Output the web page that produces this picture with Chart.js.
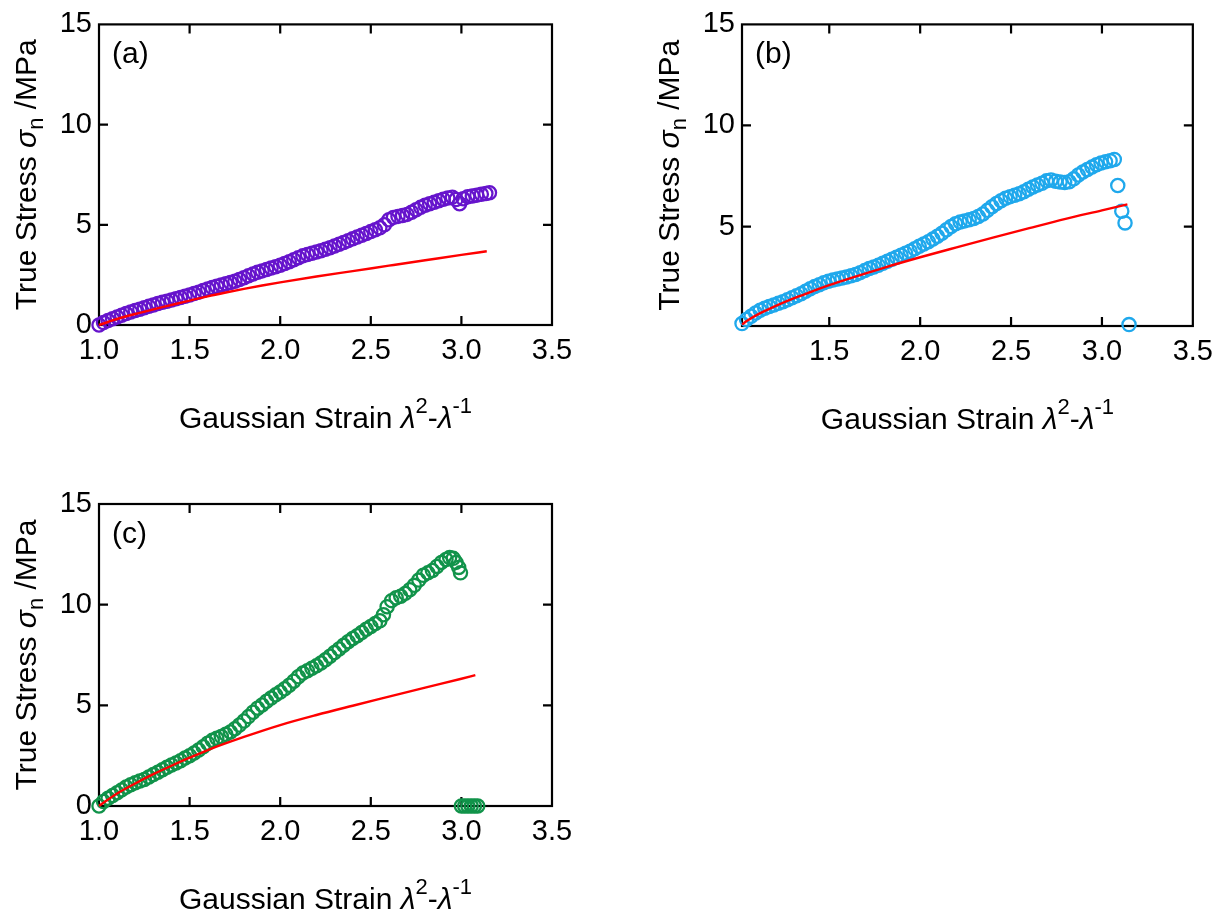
<!DOCTYPE html>
<html>
<head>
<meta charset="utf-8">
<title>True stress vs Gaussian strain</title>
<script src="https://cdn.jsdelivr.net/npm/chart.js@4.4.1/dist/chart.umd.min.js"></script>
<style>
  html, body { margin: 0; padding: 0; background: #fff; }
  #wrap { position: relative; width: 1222px; height: 916px; overflow: hidden; }
  canvas { position: absolute; }
  #chartA { left: 0; top: 0; }
  #chartB { left: 611px; top: 0; }
  #chartC { left: 0; top: 460px; }
</style>
</head>
<body>
<div id="wrap">
  <canvas id="chartA" width="611" height="440"></canvas>
  <canvas id="chartB" width="611" height="440"></canvas>
  <canvas id="chartC" width="611" height="456"></canvas>
</div>
<script>
// Tick values
const xTicks = [1.0, 1.5, 2.0, 2.5, 3.0, 3.5];
const xTicksB = [1.5, 2.0, 2.5, 3.0, 3.5];
const yTicks = [0, 5, 10, 15];
const yTicksB = [5, 10, 15];

// (a) measured stress
const strainA = [1.000, 1.025, 1.050, 1.075, 1.100, 1.125, 1.150, 1.175, 1.200, 1.225, 1.250, 1.275, 1.300, 1.325, 1.350,
  1.375, 1.400, 1.425, 1.450, 1.475, 1.500, 1.525, 1.550, 1.575, 1.600, 1.625, 1.650, 1.675, 1.700, 1.725, 1.750,
  1.775, 1.800, 1.825, 1.850, 1.875, 1.900, 1.925, 1.950, 1.975, 2.000, 2.025, 2.050, 2.075, 2.100, 2.125, 2.150,
  2.175, 2.200, 2.225, 2.250, 2.275, 2.300, 2.325, 2.350, 2.375, 2.400, 2.425, 2.450, 2.475, 2.500, 2.525, 2.550,
  2.575, 2.600, 2.625, 2.650, 2.675, 2.700, 2.725, 2.750, 2.775, 2.800, 2.825, 2.850, 2.875, 2.900, 2.925, 2.950,
  2.970, 2.990, 3.010, 3.035, 3.060, 3.085, 3.110, 3.135, 3.155];
const stressA = [0.00, 0.12, 0.22, 0.31, 0.40, 0.49, 0.57, 0.65, 0.72, 0.79, 0.86, 0.93, 1.00, 1.07, 1.13,
  1.19, 1.25, 1.31, 1.37, 1.43, 1.50, 1.57, 1.64, 1.72, 1.80, 1.87, 1.93, 2.00, 2.06, 2.12, 2.18,
  2.27, 2.36, 2.46, 2.55, 2.63, 2.70, 2.77, 2.84, 2.91, 2.98, 3.07, 3.16, 3.26, 3.36, 3.45, 3.52,
  3.58, 3.64, 3.71, 3.78, 3.86, 3.94, 4.03, 4.12, 4.21, 4.30, 4.39, 4.48, 4.57, 4.66, 4.75, 4.85,
  5.00, 5.25, 5.37, 5.42, 5.46, 5.52, 5.63, 5.75, 5.87, 5.98, 6.05, 6.12, 6.20, 6.28, 6.34, 6.38,
  6.26, 6.05, 6.30, 6.40, 6.44, 6.48, 6.52, 6.56, 6.60];
// (a) model fit
const fitStrainA = [1.0, 1.05, 1.1, 1.2, 1.3, 1.4, 1.5, 1.6, 1.7, 1.8, 1.9, 2.0, 2.2, 2.4, 2.6, 2.8, 3.0, 3.14];
const fitStressA = [0, 0.15, 0.30, 0.55, 0.78, 1.00, 1.22, 1.43, 1.62, 1.80, 1.97, 2.13, 2.42, 2.69, 2.96, 3.23, 3.50, 3.68];

// (b) measured stress
const strainB = [1.020, 1.045, 1.070, 1.095, 1.120, 1.145, 1.170, 1.195, 1.220, 1.245, 1.270, 1.295, 1.320, 1.345,
  1.370, 1.395, 1.420, 1.445, 1.470, 1.495, 1.520, 1.545, 1.570, 1.595, 1.620, 1.645, 1.670, 1.695, 1.720, 1.745,
  1.770, 1.795, 1.820, 1.845, 1.870, 1.895, 1.920, 1.945, 1.970, 1.995, 2.020, 2.045, 2.070, 2.095, 2.120, 2.145,
  2.170, 2.195, 2.220, 2.245, 2.270, 2.295, 2.320, 2.345, 2.370, 2.395, 2.420, 2.445, 2.470, 2.495, 2.520, 2.545,
  2.570, 2.595, 2.620, 2.645, 2.670, 2.695, 2.720, 2.745, 2.770, 2.795, 2.820, 2.845, 2.870, 2.895, 2.920, 2.945,
  2.970, 2.995, 3.020, 3.045, 3.068, 3.087, 3.109, 3.127, 3.149];
const stressB = [0.20, 0.40, 0.56, 0.72, 0.86, 0.96, 1.04, 1.12, 1.20, 1.28, 1.38, 1.48, 1.58, 1.68,
  1.80, 1.92, 2.03, 2.12, 2.22, 2.29, 2.35, 2.40, 2.45, 2.50, 2.56, 2.63, 2.72, 2.82, 2.92, 3.00,
  3.08, 3.18, 3.28, 3.38, 3.48, 3.58, 3.68, 3.78, 3.90, 4.02, 4.14, 4.25, 4.38, 4.52, 4.67, 4.84,
  5.00, 5.14, 5.22, 5.28, 5.33, 5.40, 5.50, 5.62, 5.80, 5.98, 6.14, 6.28, 6.40, 6.48, 6.55, 6.62,
  6.72, 6.84, 6.96, 7.06, 7.14, 7.26, 7.30, 7.24, 7.20, 7.18, 7.22, 7.36, 7.55, 7.70, 7.82, 7.94,
  8.06, 8.14, 8.20, 8.26, 8.32, 7.03, 5.76, 5.18, 0.15];
// (b) model fit
const fitStrainB = [1.02, 1.05, 1.1, 1.2, 1.3, 1.4, 1.5, 1.6, 1.8, 2.0, 2.2, 2.4, 2.6, 2.8, 3.0, 3.14];
const fitStressB = [0.15, 0.35, 0.62, 1.05, 1.43, 1.77, 2.10, 2.40, 2.96, 3.48, 3.97, 4.45, 4.92, 5.38, 5.80, 6.10];

// (c) measured stress
const strainC = [1.000, 1.025, 1.050, 1.075, 1.100, 1.125, 1.150, 1.175, 1.200, 1.225, 1.250, 1.275, 1.300, 1.325,
  1.350, 1.375, 1.400, 1.425, 1.450, 1.475, 1.500, 1.525, 1.550, 1.575, 1.600, 1.625, 1.650, 1.675, 1.700, 1.725,
  1.750, 1.775, 1.800, 1.825, 1.850, 1.875, 1.900, 1.925, 1.950, 1.975, 2.000, 2.025, 2.050, 2.075, 2.100, 2.125,
  2.150, 2.175, 2.200, 2.225, 2.250, 2.275, 2.300, 2.325, 2.350, 2.375, 2.400, 2.425, 2.450, 2.475, 2.500, 2.525,
  2.550, 2.570, 2.590, 2.615, 2.640, 2.665, 2.690, 2.715, 2.740, 2.765, 2.790, 2.815, 2.840, 2.865, 2.890, 2.915,
  2.935, 2.955, 2.970, 2.985, 2.995, 3.000, 3.018, 3.036, 3.054, 3.072, 3.090];
const stressC = [0.00, 0.22, 0.38, 0.52, 0.66, 0.80, 0.94, 1.06, 1.16, 1.24, 1.32, 1.44, 1.56, 1.68,
  1.80, 1.92, 2.04, 2.14, 2.25, 2.38, 2.50, 2.63, 2.78, 2.94, 3.12, 3.26, 3.36, 3.45, 3.56, 3.68,
  3.84, 4.02, 4.22, 4.44, 4.66, 4.86, 5.02, 5.20, 5.36, 5.52, 5.66, 5.82, 6.00, 6.20, 6.42, 6.60,
  6.72, 6.84, 6.96, 7.10, 7.26, 7.44, 7.62, 7.80, 7.98, 8.16, 8.32, 8.46, 8.62, 8.78, 8.92, 9.06,
  9.20, 9.50, 9.90, 10.20, 10.34, 10.42, 10.56, 10.74, 10.96, 11.22, 11.46, 11.58, 11.70, 11.90, 12.10, 12.24,
  12.34, 12.30, 12.10, 11.85, 11.58, 0, 0, 0, 0, 0, 0];
// (c) model fit
const fitStrainC = [1.0, 1.05, 1.1, 1.2, 1.3, 1.4, 1.5, 1.6, 1.8, 2.0, 2.2, 2.4, 2.6, 2.8, 3.0, 3.077];
const fitStressC = [0, 0.32, 0.62, 1.12, 1.58, 2.00, 2.40, 2.78, 3.43, 4.02, 4.52, 4.98, 5.43, 5.88, 6.32, 6.50];

const FONT = '"Liberation Sans", Arial, sans-serif';
const TICK = 9;

// axis titles, split into runs so the sub/superscripts can be placed
const xTitle = [
  { t: 'Gaussian Strain ', size: 30 },
  { t: 'λ', size: 30, italic: true },
  { t: '2', size: 22, dy: -15 },
  { t: '-', size: 30 },
  { t: 'λ', size: 30, italic: true },
  { t: '-1', size: 22, dy: -15 }
];
const yTitle = [
  { t: 'True Stress ', size: 30 },
  { t: 'σ', size: 30, italic: true },
  { t: 'n', size: 22, dy: 7 },
  { t: ' /MPa', size: 30 }
];

function pairs(xs, ys) {
  return xs.map((x, i) => ({ x: x, y: ys[i] }));
}

function runFont(r) {
  return (r.italic ? 'italic ' : '') + r.size + 'px ' + FONT;
}

// draws a list of runs centred on cx, sitting on baseY
function drawRuns(ctx, runs, cx, baseY) {
  let total = 0;
  runs.forEach(r => {
    ctx.font = runFont(r);
    r.w = ctx.measureText(r.t).width;
    total += r.w;
  });
  let x = cx - total / 2;
  runs.forEach(r => {
    ctx.font = runFont(r);
    ctx.fillText(r.t, x, baseY + (r.dy || 0));
    x += r.w;
  });
}

// box frame with inward ticks on all four sides, titles and panel letter
const framePlugin = {
  id: 'frame',
  beforeDatasetsDraw(chart) {
    const { ctx, chartArea: a, scales: { x, y } } = chart;
    ctx.save();
    ctx.strokeStyle = '#000';
    ctx.lineWidth = 2.2;
    ctx.strokeRect(a.left, a.top, a.right - a.left, a.bottom - a.top);
    ctx.beginPath();
    x.ticks.forEach(t => {
      const px = x.getPixelForValue(t.value);
      if (px - a.left < 2 || a.right - px < 2) return;
      ctx.moveTo(px, a.bottom); ctx.lineTo(px, a.bottom - TICK);
      ctx.moveTo(px, a.top); ctx.lineTo(px, a.top + TICK);
    });
    y.ticks.forEach(t => {
      const py = y.getPixelForValue(t.value);
      if (py - a.top < 2 || a.bottom - py < 2) return;
      ctx.moveTo(a.left, py); ctx.lineTo(a.left + TICK, py);
      ctx.moveTo(a.right, py); ctx.lineTo(a.right - TICK, py);
    });
    ctx.stroke();
    ctx.restore();
  },
  afterDraw(chart, args, opts) {
    const { ctx, chartArea: a } = chart;
    ctx.save();
    ctx.fillStyle = '#000';
    ctx.textAlign = 'left';
    ctx.textBaseline = 'alphabetic';
    ctx.font = '30px ' + FONT;
    ctx.fillText(opts.letter, a.left + 13, a.top + 39);
    drawRuns(ctx, xTitle, (a.left + a.right) / 2, a.bottom + 103);
    ctx.translate(a.left - 63, (a.top + a.bottom) / 2);
    ctx.rotate(-Math.PI / 2);
    drawRuns(ctx, yTitle, 0, 0);
    ctx.restore();
  }
};

function makeChart(id, cfg) {
  return new Chart(document.getElementById(id), {
    type: 'scatter',
    data: {
      datasets: [
        {
          type: 'line',
          data: pairs(cfg.fitX, cfg.fitY),
          borderColor: '#ff0000',
          borderWidth: 2.4,
          pointRadius: 0,
          fill: false,
          cubicInterpolationMode: 'monotone',
          clip: false
        },
        {
          data: pairs(cfg.xs, cfg.ys),
          borderColor: cfg.color,
          backgroundColor: 'rgba(0,0,0,0)',
          pointStyle: 'circle',
          pointRadius: 6.6,
          pointBorderWidth: 2.3,
          clip: false
        }
      ]
    },
    options: {
      responsive: false,
      animation: false,
      devicePixelRatio: 1,
      events: [],
      layout: { padding: cfg.padding },
      plugins: {
        legend: { display: false },
        tooltip: { enabled: false },
        frame: { letter: cfg.letter }
      },
      scales: {
        x: {
          type: 'linear',
          min: cfg.xMin,
          max: 3.5,
          grid: { display: false, drawTicks: false },
          border: { display: false },
          afterBuildTicks: s => { s.ticks = cfg.xTicks.map(v => ({ value: v })); },
          afterFit: s => { s.height = cfg.xAxisH; },
          ticks: {
            color: '#000',
            font: { family: FONT, size: 29 },
            padding: 9,
            maxRotation: 0,
            autoSkip: false,
            callback: v => v.toFixed(1)
          }
        },
        y: {
          type: 'linear',
          min: cfg.yMin,
          max: 15,
          grid: { display: false, drawTicks: false },
          border: { display: false },
          afterBuildTicks: s => { s.ticks = cfg.yTicks.map(v => ({ value: v })); },
          afterFit: s => { s.width = cfg.yAxisW; },
          ticks: {
            color: '#000',
            font: { family: FONT, size: 29 },
            padding: 7,
            autoSkip: false,
            callback: v => String(v)
          }
        }
      }
    },
    plugins: [framePlugin]
  });
}

makeChart('chartA', {
  letter: '(a)', color: '#6614cc',
  xs: strainA, ys: stressA, fitX: fitStrainA, fitY: fitStressA,
  xMin: 1.0, yMin: 0, xTicks: xTicks, yTicks: yTicks,
  padding: { left: 0, top: 24, right: 59, bottom: 0 }, yAxisW: 99, xAxisH: 115
});

makeChart('chartB', {
  letter: '(b)', color: '#1fa8ec',
  xs: strainB, ys: stressB, fitX: fitStrainB, fitY: fitStressB,
  xMin: 1.02, yMin: 0.08, xTicks: xTicksB, yTicks: yTicksB,
  padding: { left: 0, top: 24, right: 28, bottom: 0 }, yAxisW: 131, xAxisH: 114
});

makeChart('chartC', {
  letter: '(c)', color: '#11934a',
  xs: strainC, ys: stressC, fitX: fitStrainC, fitY: fitStressC,
  xMin: 1.0, yMin: 0, xTicks: xTicks, yTicks: yTicks,
  padding: { left: 0, top: 44, right: 59, bottom: 0 }, yAxisW: 99, xAxisH: 110
});
</script>
</body>
</html>
